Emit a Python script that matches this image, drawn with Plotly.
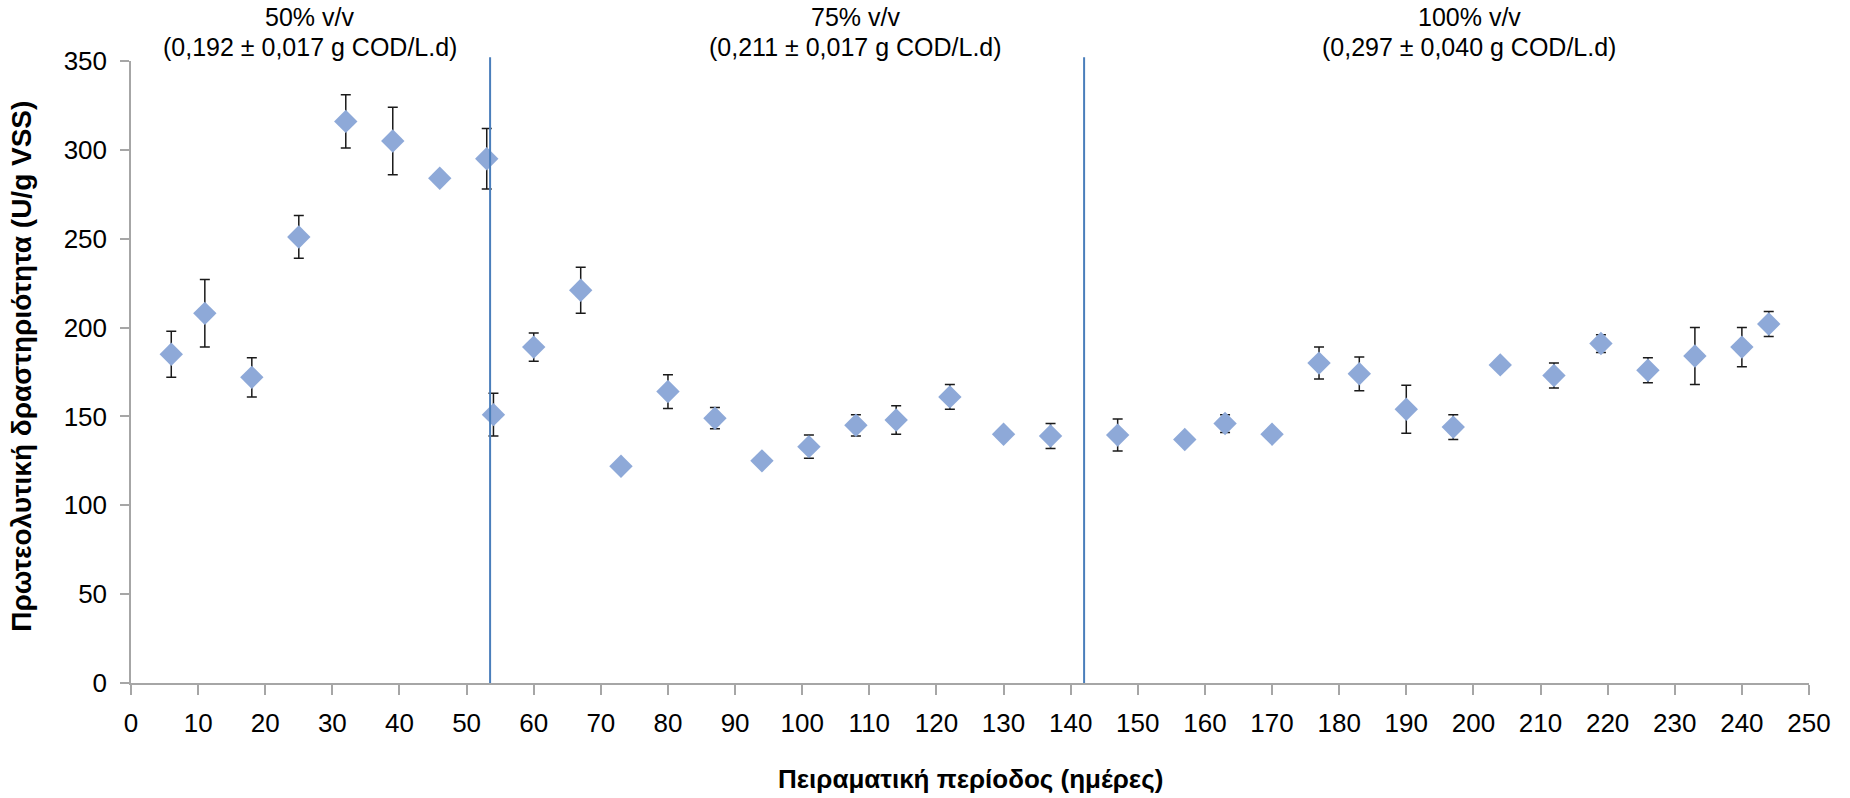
import plotly.graph_objects as go

# Experimental day of each sample
days = [6, 11, 18, 25, 32, 39, 46, 53, 54, 60, 67, 73, 80, 87, 94, 101, 108, 114,
        122, 130, 137, 147, 157, 163, 170, 177, 183, 190, 197, 204, 212, 219, 226,
        233, 240, 244]
# Proteolytic activity (U/g VSS)
activity = [185, 208, 172, 251, 316, 305, 284, 295, 151, 189, 221, 122, 164, 149,
            125, 133, 145, 148, 161, 140, 139, 139.5, 137, 146, 140, 180, 174, 154,
            144, 179, 173, 191, 176, 184, 189, 202]
# Standard deviation of each measurement
activity_sd = [13, 19, 11, 12, 15, 19, 2, 17, 12, 8, 13, 2, 9.5, 6, 2, 6.5, 6, 8,
               7, 2, 7, 9, 2, 5, 3, 9, 9.5, 13.5, 7, 2, 7, 5, 7, 16, 11, 7]

# Days at which the feed strength changed
phase_changes = [53.5, 142]
phase_titles = ["50% v/v", "75% v/v", "100% v/v"]
phase_loads = ["(0,192 ± 0,017 g COD/L.d)", "(0,211 ± 0,017 g COD/L.d)",
               "(0,297 ± 0,040 g COD/L.d)"]
phase_label_x = [26.6, 107.9, 199.4]

x_ticks = list(range(0, 251, 10))
y_ticks = list(range(0, 351, 50))

FONT = "Liberation Sans, Arial, sans-serif"
AXIS_GREY = "#a6a6a6"

fig = go.Figure()

fig.add_trace(go.Scatter(
    x=days, y=activity, mode="markers",
    marker=dict(symbol="diamond", size=18, color="#8ea9d8",
                line=dict(width=0)),
    error_y=dict(type="data", array=activity_sd, visible=True,
                 color="#1a1a1a", thickness=1.5, width=5),
    showlegend=False, hoverinfo="x+y",
))

shapes = []
for xc in phase_changes:
    shapes.append(dict(type="line", xref="x", yref="paper",
                       x0=xc, x1=xc, y0=0, y1=1.006,
                       line=dict(color="#4a7ebb", width=2)))

annotations = []
for xc, t1, t2 in zip(phase_label_x, phase_titles, phase_loads):
    annotations.append(dict(x=xc, y=1.0707, xref="x", yref="paper", text=t1,
                            showarrow=False, xanchor="center", yanchor="middle",
                            font=dict(family=FONT, size=25, color="#000")))
    annotations.append(dict(x=xc, y=1.0225, xref="x", yref="paper", text=t2,
                            showarrow=False, xanchor="center", yanchor="middle",
                            font=dict(family=FONT, size=25, color="#000")))

annotations.append(dict(x=0.5, y=-0.154, xref="paper", yref="paper",
                        text="<b>Πειραματική περίοδος (ημέρες)</b>",
                        showarrow=False, xanchor="center", yanchor="middle",
                        font=dict(family=FONT, size=26, color="#000")))
annotations.append(dict(x=-0.065, y=0.51, xref="paper", yref="paper",
                        text="<b>Πρωτεολυτική δραστηριότητα (U/g VSS)</b>",
                        textangle=-90, showarrow=False,
                        xanchor="center", yanchor="middle",
                        font=dict(family=FONT, size=28, color="#000")))

fig.update_layout(
    width=1850, height=798,
    margin=dict(l=131, r=41, t=61, b=115),
    paper_bgcolor="white", plot_bgcolor="white",
    font=dict(family=FONT, size=26, color="#000"),
    shapes=shapes, annotations=annotations,
    xaxis=dict(range=[0, 250], tickvals=x_ticks, ticktext=[str(v) for v in x_ticks],
               showgrid=False, zeroline=False, showline=True, linecolor=AXIS_GREY,
               linewidth=1.5, ticks="outside", ticklen=10, tickcolor=AXIS_GREY,
               tickwidth=1.5, tickfont=dict(family=FONT, size=26, color="#000"),
               ticklabelstandoff=6),
    yaxis=dict(range=[0, 350], tickvals=y_ticks, ticktext=[str(v) for v in y_ticks],
               showgrid=False, zeroline=False, showline=True, linecolor=AXIS_GREY,
               linewidth=1.5, ticks="outside", ticklen=9, tickcolor=AXIS_GREY,
               tickwidth=1.5, tickfont=dict(family=FONT, size=26, color="#000"),
               ticklabelstandoff=8),
)

fig.write_html("out.html")
